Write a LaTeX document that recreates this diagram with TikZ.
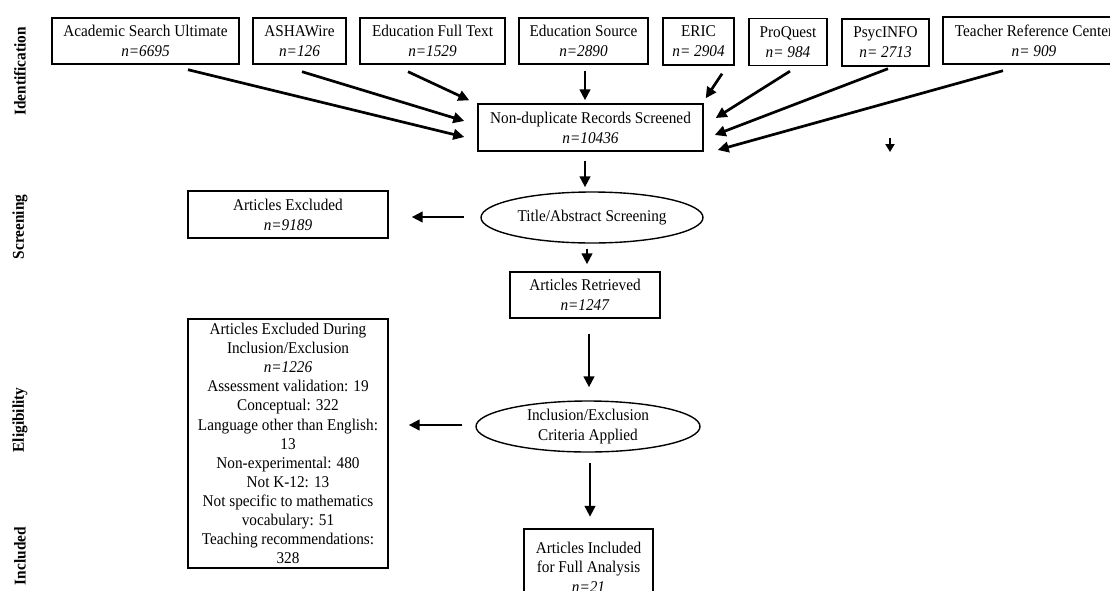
\documentclass[tikz,border=0pt]{standalone}
\usepackage{fontspec}
\setmainfont{Liberation Serif}[FakeStretch=0.93]
\usetikzlibrary{arrows.meta,shapes.geometric,calc}
\begin{document}
\begin{tikzpicture}[x=1pt,y=-1pt,
  box/.style={draw,line width=1.4pt,inner sep=0pt,align=center,font=\fontsize{16.4}{20}\selectfont},
  oval/.style={ellipse,draw,line width=1.4pt,inner sep=0pt,align=center,font=\fontsize{16.4}{19.5}\selectfont},
  arr/.style={line width=2.7pt,-{Triangle[length=11pt,width=10.5pt]}},
  smallarr/.style={line width=2.4pt,-{Triangle[length=8pt,width=9pt]}},
  phase/.style={rotate=90,inner sep=0pt,font=\fontsize{16.5}{18}\selectfont\bfseries}]
\useasboundingbox (0,0) rectangle (1110,590);
\fill[white] (0,0) rectangle (1110,590);
\clip (0,0) rectangle (1110,590);

% phase labels
\node[phase] (lid) at (20,71.5) {Identification};
\node[phase] (lsc) at (20,227) {Screening};
\node[phase] (lel) at (20,420) {Eligibility};
\node[phase] (lin) at (20,556) {Included};

% database boxes
\node[box,minimum width=187,minimum height=46] (acad) at (145.5,41) {Academic Search Ultimate\\\textit{n=6695}};
\node[box,minimum width=93,minimum height=46] (asha) at (299.5,41) {ASHAWire\\\textit{n=126}};
\node[box,minimum width=145,minimum height=46] (eft) at (432.5,41) {Education Full Text\\\textit{n=1529}};
\node[box,minimum width=129,minimum height=46] (esrc) at (583.5,41) {Education Source\\\textit{n=2890}};
\node[box,minimum width=71,minimum height=47] (eric) at (698.5,41.5) {ERIC\\\textit{n= 2904}};
\node[box,minimum width=78,minimum height=47] (proq) at (788,42) {ProQuest\\\textit{n= 984}};
\node[box,minimum width=87,minimum height=47] (psyc) at (885.5,42.5) {PsycINFO\\\textit{n= 2713}};
\node[box,minimum width=182,minimum height=47] (teach) at (1034,40.5) {Teacher Reference Center\\\textit{n= 909}};

% flow
\node[box,minimum width=225,minimum height=47] (nondup) at (590.5,127.5) {Non-duplicate Records Screened\\\textit{n=10436}};
\node[oval,minimum width=222,minimum height=51] (ell1) at (592,217.5) {Title/Abstract Screening};
\node[box,minimum width=200,minimum height=47] (excl1) at (288,214.5) {Articles Excluded\\\textit{n=9189}};
\node[box,minimum width=150,minimum height=46] (retr) at (585,295) {Articles Retrieved\\\textit{n=1247}};
\node[box,minimum width=200,minimum height=249,font=\fontsize{16.4}{19.1}\selectfont] (excl2) at (288,443.5) {Articles Excluded During\\Inclusion/Exclusion\\\textit{n=1226}\\Assessment validation: 19\\Conceptual: 322\\Language other than English:\\13\\Non-experimental: 480\\Not K-12: 13\\Not specific to mathematics\\vocabulary: 51\\Teaching recommendations:\\328};
\node[oval,minimum width=224,minimum height=51] (ell2) at (588,426.5) {Inclusion/Exclusion\\Criteria Applied};
\node[box,line width=2.4pt,minimum width=129,minimum height=76,font=\fontsize{16.4}{19.3}\selectfont] (incl) at (588.5,567) {Articles Included\\for Full Analysis\\\textit{n=21}};

% connectors into non-duplicate box
\draw[arr] ([shift={(42.5,5)}]acad.south) -- ([shift={(-13,9.5)}]nondup.west);
\draw[arr] ([shift={(2.5,7)}]asha.south) -- ([shift={(-13,-6.5)}]nondup.west);
\draw[arr] ([shift={(-24.5,7)}]eft.south) -- ([shift={(-8,-3)}]nondup.north west);
\draw[arr] ([shift={(1.5,6)}]esrc.south) -- ([shift={(-5.5,-3)}]nondup.north);
\draw[arr] ([shift={(23.5,8)}]eric.south) -- ([shift={(2,-5)}]nondup.north east);
\draw[arr] ([shift={(2,5)}]proq.south) -- ([shift={(12,-9.5)}]nondup.east);
\draw[arr] ([shift={(2.5,2)}]psyc.south) -- ([shift={(11,7.5)}]nondup.east);
\draw[arr] ([shift={(-31,6)}]teach.south) -- ([shift={(14,22.5)}]nondup.east);

% stray arrow
\coordinate (sa) at (890,138);
\coordinate (sb) at (890,152);
\draw[smallarr] (sa) -- (sb);

% main flow connectors
\draw[arr] ([shift={(-5.5,9)}]nondup.south) -- ([shift={(-7,-4)}]ell1.north);
\draw[arr] ([shift={(-16,-0.5)}]ell1.west) -- ([shift={(23,2.5)}]excl1.east);
\draw[arr] ([shift={(-5,5)}]ell1.south) -- ([shift={(2,-7)}]retr.north);
\draw[arr] ([shift={(4,15)}]retr.south) -- ([shift={(1,-13)}]ell2.north);
\draw[arr] ([shift={(-13,-1.5)}]ell2.west) -- ([shift={(20,-18.5)}]excl2.east);
\draw[arr] ([shift={(2,10)}]ell2.south) -- ([shift={(1.5,-11)}]incl.north);
\end{tikzpicture}
\end{document}
